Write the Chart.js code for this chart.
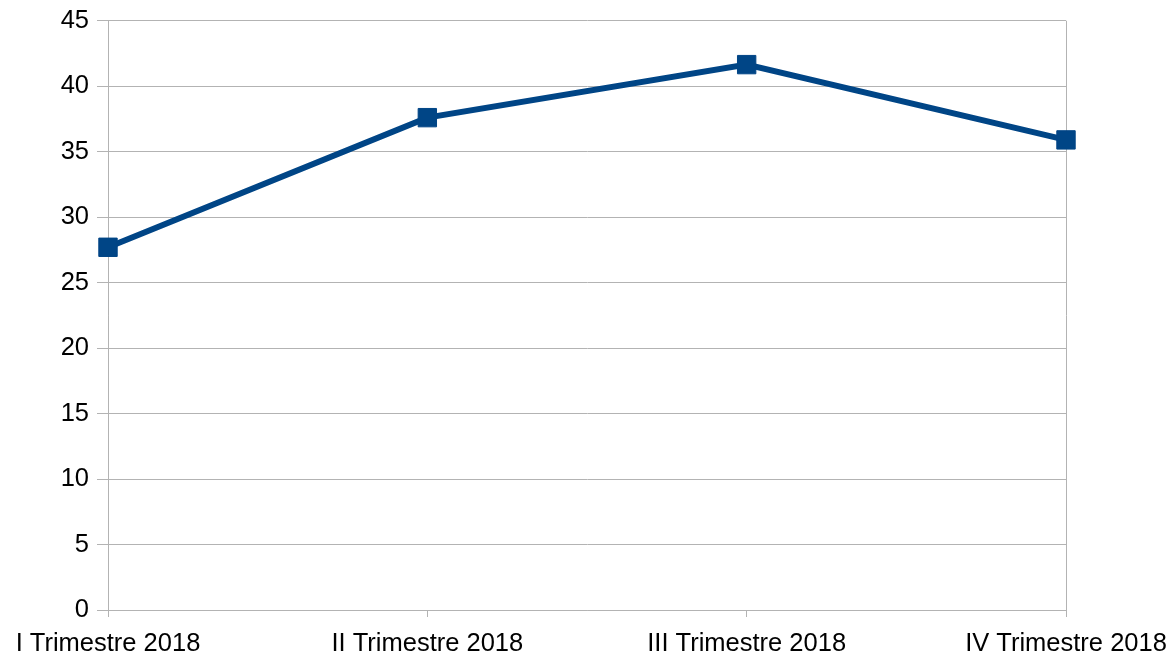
<!DOCTYPE html>
<html>
<head>
<meta charset="utf-8">
<script src="https://cdn.jsdelivr.net/npm/chart.js@4"></script>
<style>
  html, body { margin: 0; padding: 0; background: #fff; }
  #wrap { width: 1174px; height: 659px; }
</style>
</head>
<body>
<div id="wrap"><canvas id="chart"></canvas></div>
<script>
const labels = ['I Trimestre 2018', 'II Trimestre 2018', 'III Trimestre 2018', 'IV Trimestre 2018'];
const values = [27.7, 37.6, 41.65, 35.9];
const yTicks = { min: 0, max: 45, step: 5 };

const gridGray = '#b3b3b3';
const lineBlue = '#004586';

new Chart(document.getElementById('chart'), {
    type: 'line',
    data: {
        labels: labels,
        datasets: [{
            data: values,
            borderColor: lineBlue,
            backgroundColor: lineBlue,
            borderWidth: 6,
            tension: 0,
            pointStyle: 'rect',
            pointRadius: 13,
            pointHoverRadius: 13,
            pointBorderWidth: 1,
            pointBorderColor: lineBlue,
            pointBackgroundColor: lineBlue
        }]
    },
    options: {
        animation: false,
        responsive: true,
        maintainAspectRatio: false,
        layout: { padding: { top: 8, right: 2, left: 0, bottom: 0 } },
        plugins: {
            legend: { display: false },
            tooltip: { enabled: false }
        },
        scales: {
            x: {
                offset: false,
                grid: {
                    color: ctx => (ctx.index === 0 || ctx.index === labels.length - 1) ? gridGray : 'rgba(0,0,0,0)',
                    tickColor: gridGray,
                    tickLength: 7,
                    lineWidth: 1
                },
                border: { color: gridGray },
                ticks: {
                    color: '#000',
                    font: { family: 'Liberation Sans', size: 25.5 },
                    padding: 12,
                    maxRotation: 0,
                    autoSkip: false
                },
                afterFit: scale => {
                    scale.height = 49;
                    scale.paddingRight = 108;
                }
            },
            y: {
                min: yTicks.min,
                max: yTicks.max,
                grid: {
                    color: gridGray,
                    tickColor: gridGray,
                    tickLength: 11
                },
                border: { color: gridGray },
                ticks: {
                    stepSize: yTicks.step,
                    color: '#000',
                    font: { family: 'Liberation Sans', size: 25.5, lineHeight: 1 },
                    padding: 8
                },
                afterFit: scale => { scale.width = 108; }
            }
        }
    }
});
</script>
</body>
</html>
